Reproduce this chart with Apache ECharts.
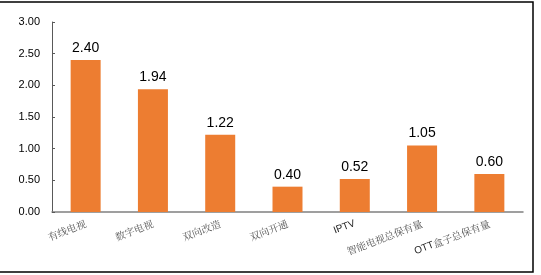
<!DOCTYPE html>
<html><head><meta charset="utf-8">
<script src="https://cdn.jsdelivr.net/npm/echarts@6/dist/echarts.min.js"></script>
<style>html,body{margin:0;padding:0;background:#fff}#c{width:541px;height:275px}</style>
</head><body><div id="c"></div>
<script>
const categories = ['有线电视','数字电视','双向改造','双向开通','IPTV','智能电视总保有量','OTT盒子总保有量'];
const values = [2.40, 1.94, 1.22, 0.40, 0.52, 1.05, 0.60];
const yTicks = [0, 0.5, 1.0, 1.5, 2.0, 2.5, 3.0];

const chart = echarts.init(document.getElementById('c'), null, {renderer:'canvas'});
chart.setOption({
  animation:false,
  backgroundColor:'#fff',
  grid:{left:52, right:18, top:22, bottom:63},
  xAxis:{
    type:'category', data:categories,
    axisLine:{lineStyle:{color:'#808080', width:1.5}},
    axisTick:{inside:true, length:4, lineStyle:{color:'#404040'}},
    axisLabel:{rotate:21, color:'#555', fontSize:10, fontFamily:'"Noto Serif CJK SC","Noto Sans CJK SC",serif', margin:11, interval:0,
      formatter:v=>v.replace(/^([A-Za-z]+)/, '{lat|$1}'),
      rich:{lat:{fontFamily:'Liberation Sans, Arial', fontSize:10, color:'#222'}}
    }
  },
  yAxis:{
    type:'value', min:yTicks[0], max:yTicks[yTicks.length-1], interval:0.5,
    axisLine:{show:true, lineStyle:{color:'#595959', width:1}},
    axisTick:{show:true, inside:true, length:3, lineStyle:{color:'#595959'}},
    splitLine:{show:false},
    axisLabel:{formatter:v=>v.toFixed(2), color:'#000', fontSize:11, fontFamily:'Liberation Sans, Arial', margin:12}
  },
  series:[{
    type:'bar', data:values, barWidth:30,
    itemStyle:{color:'#ED7D31'},
    label:{show:true, position:'top', distance:5, formatter:p=>p.value.toFixed(2), color:'#000', fontSize:14, fontFamily:'Liberation Sans, Arial'}
  }],
  graphic:[
    {type:'rect', shape:{x:-2, y:2, width:535, height:270}, style:{fill:'none', stroke:'#000', lineWidth:1.5}, silent:true}
  ]
});
</script></body></html>
